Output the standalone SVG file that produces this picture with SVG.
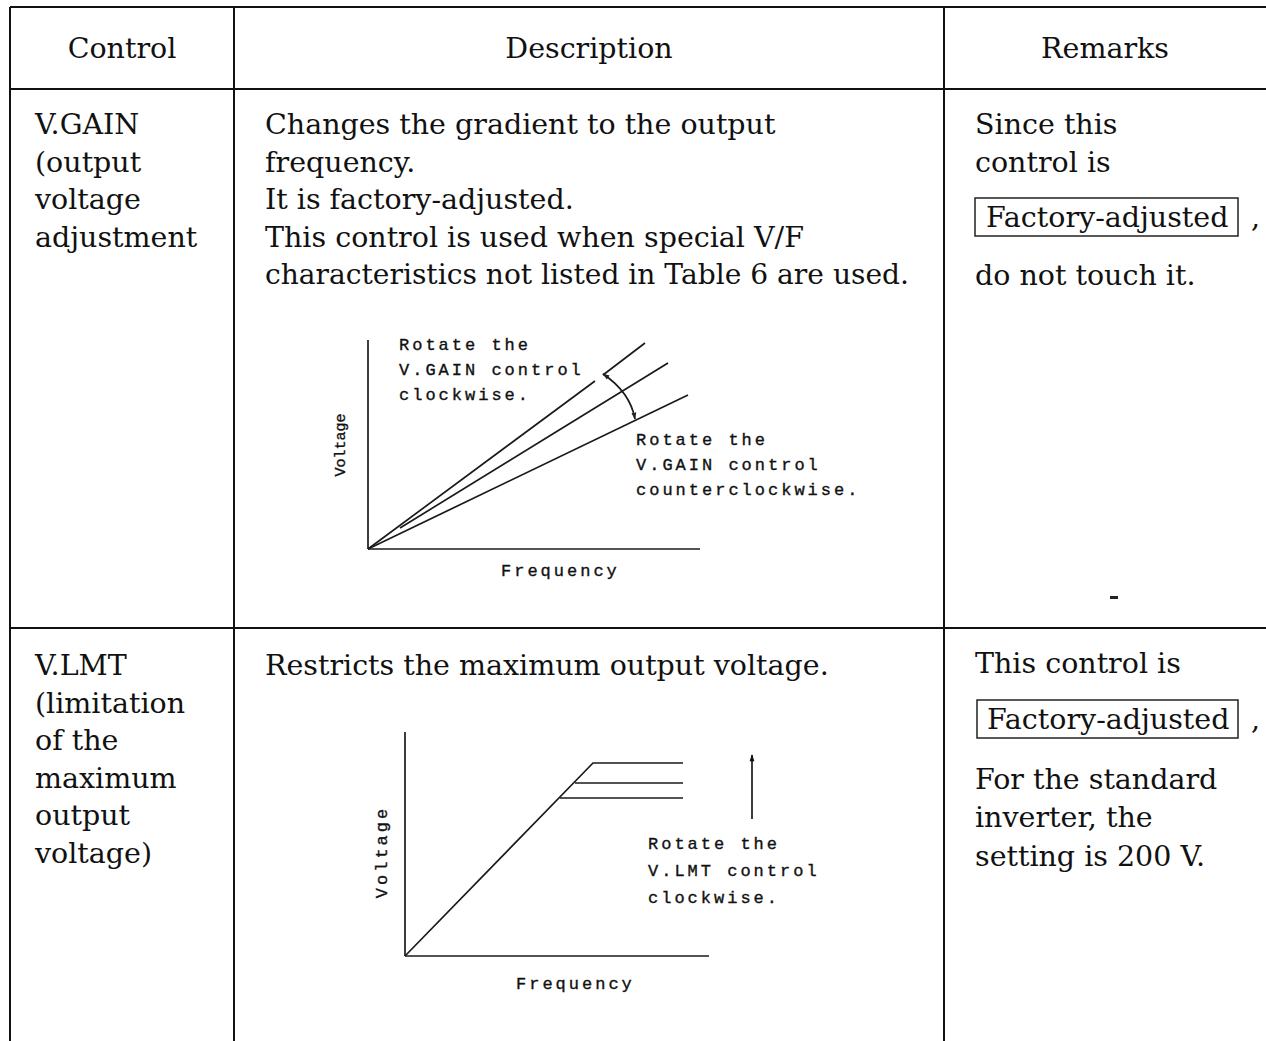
<svg xmlns="http://www.w3.org/2000/svg" width="1266" height="1041" viewBox="0 0 1266 1041">
<defs>
<style>
.t{font-family:"DejaVu Serif","Liberation Serif",serif;font-size:28.5px;fill:#111}
.m{font-family:"Liberation Mono","DejaVu Sans Mono",monospace;font-size:17px;letter-spacing:3px;fill:#111;stroke:#111;stroke-width:0.35}
.grid{stroke:#111;stroke-width:2;fill:none}
.ax{stroke:#1a1a1a;stroke-width:1.7;fill:none}
.box{stroke:#222;stroke-width:1.5;fill:none}
</style>
<marker id="ah" viewBox="0 0 10 10" refX="9" refY="5" markerWidth="7" markerHeight="7" orient="auto-start-reverse" markerUnits="userSpaceOnUse">
<path d="M0,1.5 L10,5 L0,8.5 z" fill="#222"/>
</marker>
<marker id="ahv" viewBox="0 0 10 10" refX="9" refY="5" markerWidth="10" markerHeight="7" orient="auto" markerUnits="userSpaceOnUse">
<path d="M0,1.5 L10,5 L0,8.5 z" fill="#111"/>
</marker>
</defs>
<rect width="1266" height="1041" fill="#fff"/>

<g id="connectors">
<line class="grid" x1="10" y1="7" x2="1266" y2="7"/>
<line class="grid" x1="10" y1="89" x2="1266" y2="89"/>
<line class="grid" x1="10" y1="628" x2="1266" y2="628"/>
<line class="grid" x1="10" y1="7" x2="10" y2="1041"/>
<line class="grid" x1="234" y1="7" x2="234" y2="1041"/>
<line class="grid" x1="944" y1="7" x2="944" y2="1041"/>
</g>

<g id="header">
<text class="t" x="122" y="58" text-anchor="middle">Control</text>
<text class="t" x="589" y="58" text-anchor="middle">Description</text>
<text class="t" x="1105" y="58" text-anchor="middle">Remarks</text>
</g>

<g id="vgain-control">
<text class="t" x="35" y="134">V.GAIN</text>
<text class="t" x="35" y="171.5">(output</text>
<text class="t" x="35" y="209">voltage</text>
<text class="t" x="35" y="246.5">adjustment</text>
</g>

<g id="vgain-description">
<text class="t" x="265" y="134">Changes the gradient to the output</text>
<text class="t" x="265" y="171.5">frequency.</text>
<text class="t" x="265" y="209">It is factory-adjusted.</text>
<text class="t" x="265" y="246.5">This control is used when special V/F</text>
<text class="t" x="265" y="284" textLength="644" lengthAdjust="spacingAndGlyphs">characteristics not listed in Table 6 are used.</text>
</g>

<g id="vgain-chart">
<line class="ax" x1="368" y1="340" x2="368" y2="549"/>
<line class="ax" x1="368" y1="549" x2="700" y2="549"/>
<line class="ax" x1="368" y1="549" x2="595" y2="381"/>
<line class="ax" x1="603" y1="375" x2="645" y2="343"/>
<line class="ax" x1="400" y1="528" x2="668" y2="363"/>
<line class="ax" x1="368" y1="549" x2="688" y2="395"/>
<path class="ax" d="M603,374 Q630,392 635,419" marker-start="url(#ah)" marker-end="url(#ah)"/>
<text class="m" x="399" y="350">Rotate the</text>
<text class="m" x="399" y="375">V.GAIN control</text>
<text class="m" x="399" y="400">clockwise.</text>
<text class="m" x="636" y="445">Rotate the</text>
<text class="m" x="636" y="470">V.GAIN control</text>
<text class="m" x="636" y="495">counterclockwise.</text>
<text class="m" x="501" y="576">Frequency</text>
<text class="m" x="0" y="0" text-anchor="middle" style="letter-spacing:0px;font-size:15px" transform="translate(345,445) rotate(-90)">Voltage</text>
</g>

<g id="vgain-remarks">
<text class="t" x="975" y="134">Since this</text>
<text class="t" x="975" y="171.5">control is</text>
<rect class="box" x="975" y="198" width="263" height="38"/>
<text class="t" x="986" y="227">Factory-adjusted</text>
<text class="t" x="1251" y="227">,</text>
<text class="t" x="975" y="285">do not touch it.</text>
<rect x="1110" y="596" width="8" height="3" fill="#222"/>
</g>

<g id="vlmt-control">
<text class="t" x="35" y="675">V.LMT</text>
<text class="t" x="35" y="712.5">(limitation</text>
<text class="t" x="35" y="750">of the</text>
<text class="t" x="35" y="787.5">maximum</text>
<text class="t" x="35" y="825">output</text>
<text class="t" x="35" y="862.5">voltage)</text>
</g>

<g id="vlmt-description">
<text class="t" x="265" y="675">Restricts the maximum output voltage.</text>
</g>

<g id="vlmt-chart">
<line class="ax" x1="405" y1="732" x2="405" y2="956"/>
<line class="ax" x1="405" y1="956" x2="709" y2="956"/>
<polyline class="ax" points="405,956 593,763 683,763"/>
<line class="ax" x1="575" y1="783" x2="683" y2="783"/>
<line class="ax" x1="560" y1="798" x2="683" y2="798"/>
<line class="ax" x1="752" y1="819" x2="752" y2="755" marker-end="url(#ahv)"/>
<text class="m" x="648" y="849">Rotate the</text>
<text class="m" x="648" y="876">V.LMT control</text>
<text class="m" x="648" y="903">clockwise.</text>
<text class="m" x="516" y="989">Frequency</text>
<text class="m" x="0" y="0" text-anchor="middle" transform="translate(387,852) rotate(-90)">Voltage</text>
</g>

<g id="vlmt-remarks">
<text class="t" x="975" y="673">This control is</text>
<rect class="box" x="977" y="700" width="261" height="38"/>
<text class="t" x="987" y="729">Factory-adjusted</text>
<text class="t" x="1251" y="729">,</text>
<text class="t" x="975" y="789">For the standard</text>
<text class="t" x="975" y="827">inverter, the</text>
<text class="t" x="975" y="866">setting is 200 V.</text>
</g>
</svg>
